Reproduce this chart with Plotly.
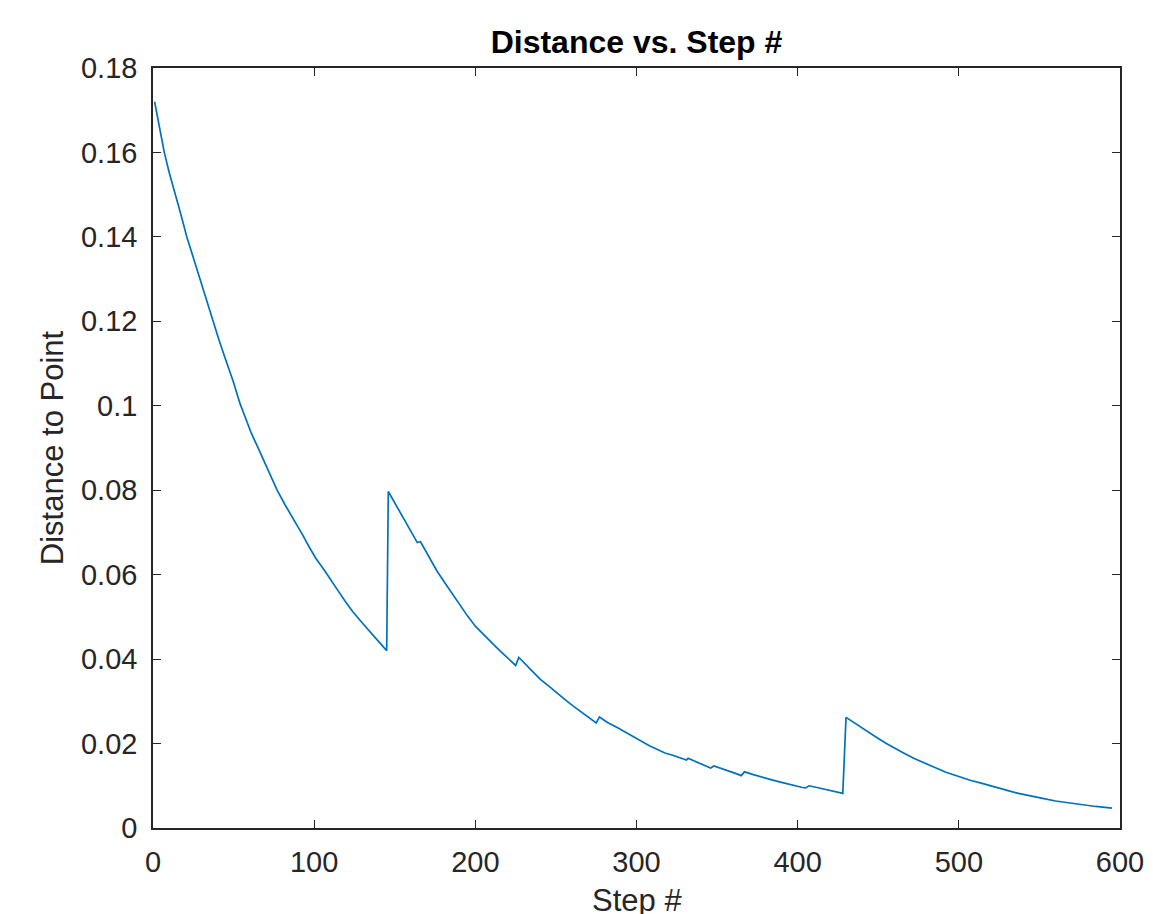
import plotly.graph_objects as go

# Data
steps = [1, 4, 7, 10, 14, 17, 21, 25, 29, 33, 37, 41, 45, 50, 54, 57, 61, 65, 70, 77, 82, 88, 89, 93, 97, 101,
         106, 110, 115, 119, 124, 130, 135, 140, 145,
         146, 150, 155, 160, 164, 166, 169, 172, 176, 180, 185, 190, 195, 200, 206, 212, 216, 220, 225,
         227, 231, 235, 240, 246, 251, 256, 261, 266, 271, 275,
         277, 282, 288, 293, 298, 303, 308, 313, 318, 322, 326, 331, 332, 336, 340, 346, 348, 352, 357, 361,
         365, 367, 372, 378, 384, 390, 396, 403, 405, 407, 412, 418, 423, 428,
         430, 435, 440, 445, 450, 455, 460, 466, 472, 478, 485, 492, 500, 507, 515, 522, 530, 537, 545, 552,
         560, 567, 575, 585, 595]
distance = [0.1720, 0.1658, 0.1600, 0.1553, 0.1500, 0.1457, 0.1400, 0.1350, 0.1300, 0.1250, 0.1200, 0.1155,
            0.1110, 0.1055, 0.1005, 0.0973, 0.0935, 0.0902, 0.0860, 0.0800, 0.0765, 0.0726, 0.0722, 0.0693,
            0.0665, 0.0639, 0.0612, 0.0588, 0.0561, 0.0538, 0.0512, 0.0485, 0.0463, 0.0441, 0.0420,
            0.0797, 0.0770, 0.0735, 0.0702, 0.0676, 0.0678, 0.0657, 0.0635, 0.0610, 0.0587, 0.0558, 0.0530,
            0.0503, 0.0478, 0.0454, 0.0432, 0.0417, 0.0402, 0.0385,
            0.0404, 0.0388, 0.0372, 0.0353, 0.0335, 0.0318, 0.0303, 0.0288, 0.0274, 0.0261, 0.0249,
            0.0263, 0.0250, 0.0238, 0.0227, 0.0216, 0.0205, 0.0195, 0.0186, 0.0177, 0.0173, 0.0168, 0.0161,
            0.0165, 0.0158, 0.0152, 0.0142, 0.0147, 0.0142, 0.0136, 0.0130,
            0.0124, 0.0133, 0.0127, 0.0120, 0.0114, 0.0108, 0.0102, 0.0096, 0.0095, 0.0100, 0.0096, 0.0091,
            0.0087, 0.0082,
            0.0262, 0.0249, 0.0237, 0.0224, 0.0212, 0.0200, 0.0189, 0.0177, 0.0165, 0.0155, 0.0143, 0.0132,
            0.0122, 0.0113, 0.0105, 0.0097, 0.0089, 0.0082, 0.0075, 0.0070, 0.0064, 0.0060, 0.0055, 0.0051,
            0.0047]

x_ticks = [0, 100, 200, 300, 400, 500, 600]
x_tick_labels = ["0", "100", "200", "300", "400", "500", "600"]
y_ticks = [0, 0.02, 0.04, 0.06, 0.08, 0.1, 0.12, 0.14, 0.16, 0.18]
y_tick_labels = ["0", "0.02", "0.04", "0.06", "0.08", "0.1", "0.12", "0.14", "0.16", "0.18"]

FONT = "Liberation Sans, Arial, Helvetica, sans-serif"
AX = "#262626"

fig = go.Figure()
fig.add_trace(go.Scatter(x=steps, y=distance, mode="lines",
                         line=dict(color="#0072BD", width=1.7), showlegend=False))

axis_common = dict(
    showline=True, linecolor=AX, linewidth=1.5, mirror="allticks",
    ticks="inside", ticklen=8, tickwidth=1.2, tickcolor=AX,
    showgrid=False, zeroline=False,
    tickfont=dict(family=FONT, size=29, color=AX),
)

# The page body has an 8px default margin, so the figure is offset by 8px.
fig.update_layout(
    width=1145, height=906,
    margin=dict(l=145, r=33, t=60, b=86),
    paper_bgcolor="white", plot_bgcolor="white",
    title=dict(text="<b>Distance vs. Step #</b>", x=0.5, xref="paper", xanchor="center",
               y=1 - 34 / 906, yref="container", yanchor="middle",
               font=dict(family=FONT, size=32, color="black")),
    xaxis=dict(range=[0, 600], tickvals=x_ticks, ticktext=x_tick_labels,
               ticklabelstandoff=7, automargin=False, **axis_common),
    yaxis=dict(range=[0, 0.18], tickvals=y_ticks, ticktext=y_tick_labels,
               title=dict(text="Distance to Point", font=dict(family=FONT, size=31, color=AX), standoff=8),
               ticklabelstandoff=8, automargin=False, **axis_common),
    annotations=[dict(text="Step #", xref="paper", yref="paper", x=0.5, y=-0.096,
                      xanchor="center", yanchor="middle", showarrow=False,
                      font=dict(family=FONT, size=31, color=AX))],
)

fig.write_html("out.html")
